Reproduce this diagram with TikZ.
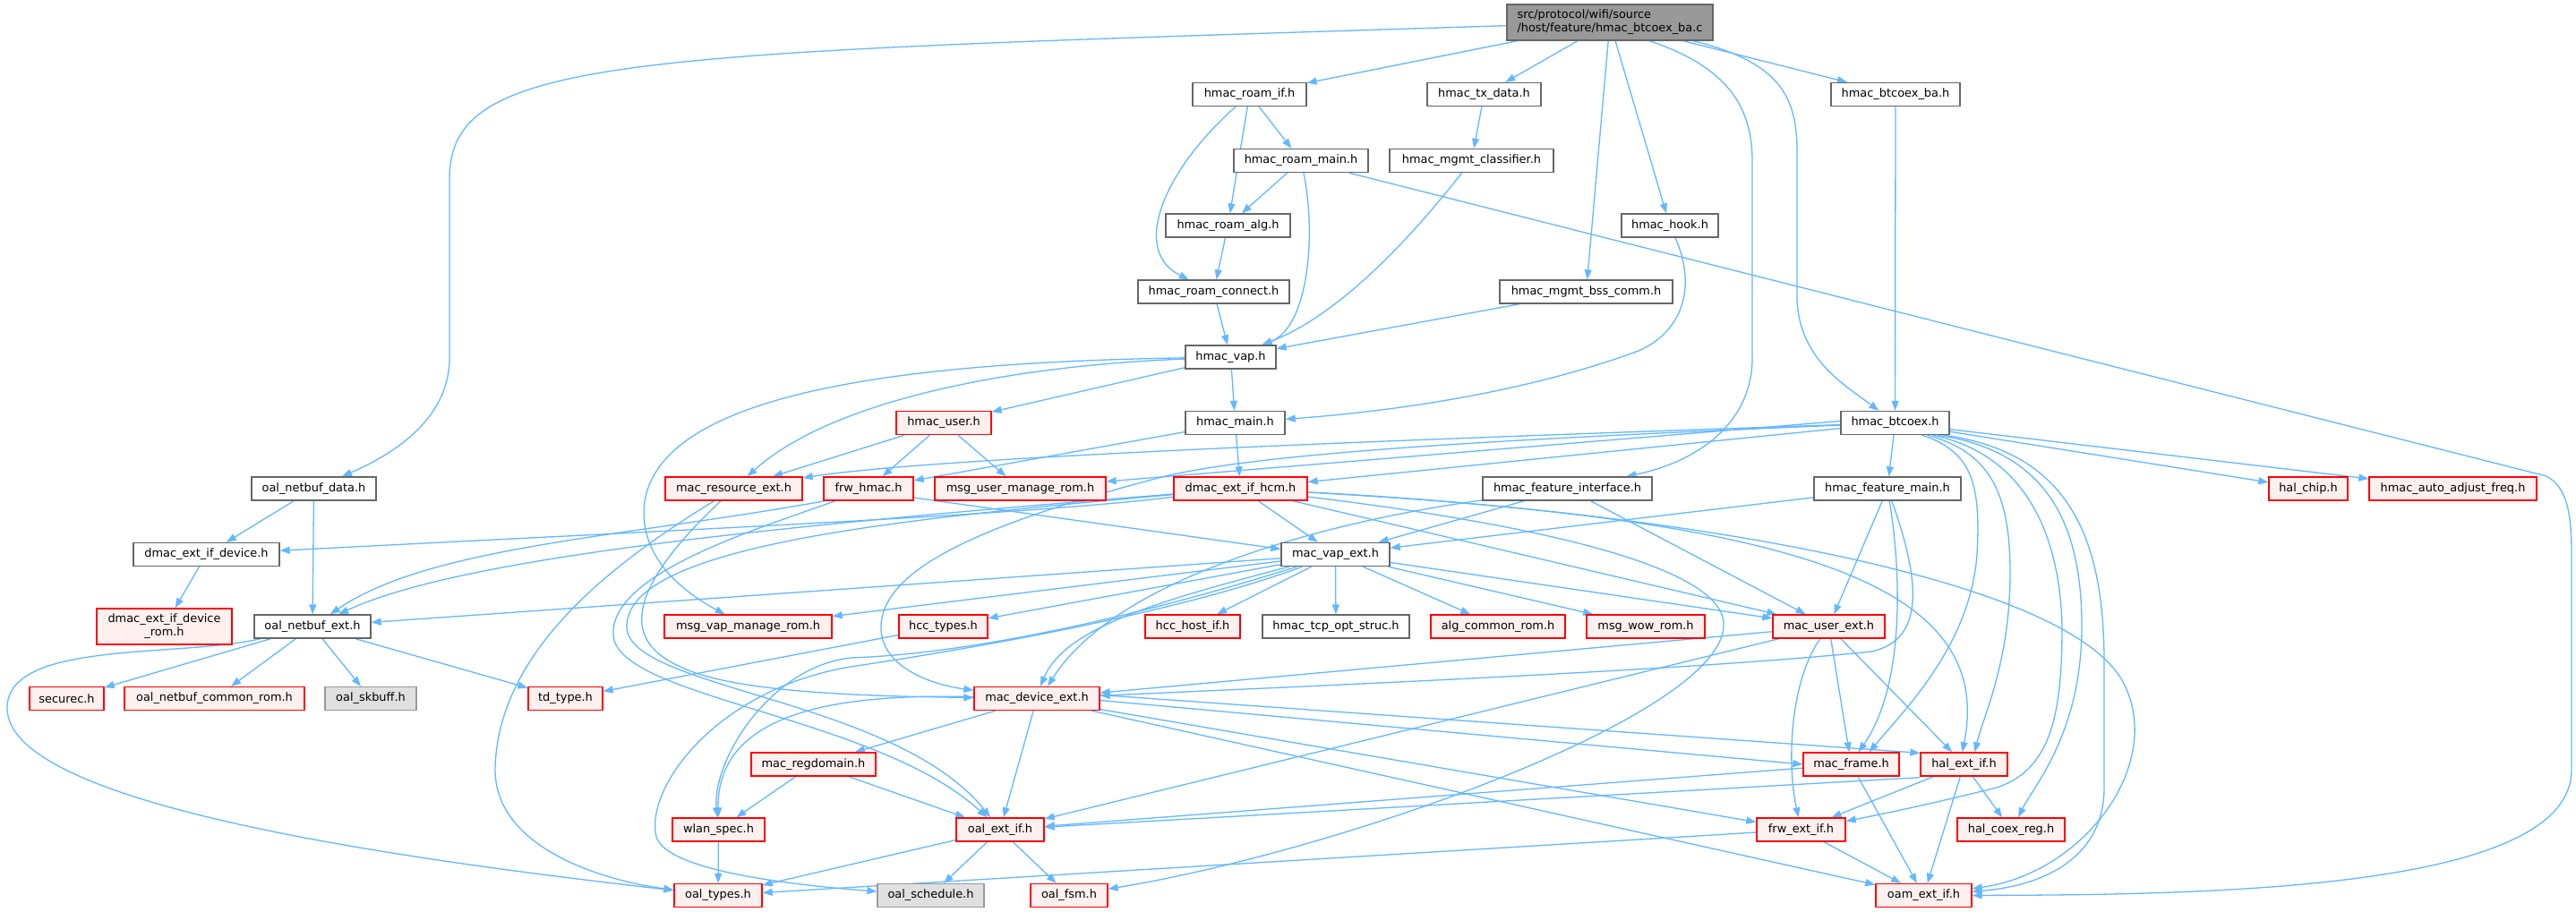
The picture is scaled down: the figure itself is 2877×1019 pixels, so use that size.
\documentclass[tikz,border=0pt]{standalone}
\usepackage{fontspec}
\newfontfamily\dvsans{DejaVu Sans}
\usetikzlibrary{arrows.meta}
\definecolor{edgeblue}{HTML}{63B8FF}
\definecolor{redfill}{HTML}{FFF0F0}
\definecolor{boxgray}{HTML}{666666}
\definecolor{mainfill}{HTML}{999999}
\definecolor{grayfill}{HTML}{E0E0E0}
\definecolor{grayedge}{HTML}{999999}
\pgfdeclarelayer{bg}
\pgfsetlayers{bg,main}
\tikzset{
  nbox/.style={draw, line width=1.3pt, minimum height=26pt, inner sep=0pt, font={\dvsans\fontsize{12.9pt}{15pt}\selectfont}},
  wbox/.style={nbox, draw=boxgray, fill=white},
  rbox/.style={nbox, draw=red, fill=redfill},
  gbox/.style={nbox, draw=grayedge, fill=grayfill},
  mainbox/.style={nbox, draw=boxgray, fill=mainfill},
  dep/.style={draw=edgeblue, line width=1.3pt, -{Triangle[length=11pt,width=8pt]}}
}
\begin{document}
\begin{tikzpicture}[x=1pt,y=-1pt]
\useasboundingbox (0,0) rectangle (2877,1019);
% nodes
\node[mainbox, minimum width=230pt, minimum height=40pt, align=left] (main) at (1798,25) {src/protocol/wifi/source\\/host/feature/hmac\_btcoex\_ba.c};
\node[wbox, minimum width=127pt] (roamif) at (1395.5,105.5) {hmac\_roam\_if.h};
\node[wbox, minimum width=127pt] (txdata) at (1657.5,105.5) {hmac\_tx\_data.h};
\node[wbox, minimum width=144pt] (btcoexba) at (2117,105.5) {hmac\_btcoex\_ba.h};
\node[wbox, minimum width=150pt] (roammain) at (1453,179.5) {hmac\_roam\_main.h};
\node[wbox, minimum width=183pt] (mgmtcls) at (1643.5,179.5) {hmac\_mgmt\_classifier.h};
\node[wbox, minimum width=139pt] (roamalg) at (1371.5,252) {hmac\_roam\_alg.h};
\node[wbox, minimum width=108pt] (hook) at (1865,252) {hmac\_hook.h};
\node[wbox, minimum width=169pt] (roamconn) at (1355.5,326) {hmac\_roam\_connect.h};
\node[wbox, minimum width=193pt] (bsscomm) at (1771.5,326) {hmac\_mgmt\_bss\_comm.h};
\node[wbox, minimum width=101pt] (hvap) at (1374.5,399) {hmac\_vap.h};
\node[rbox, minimum width=106pt] (huser) at (1054,472.5) {hmac\_user.h};
\node[wbox, minimum width=111pt] (hmain) at (1379.5,472.5) {hmac\_main.h};
\node[wbox, minimum width=121pt] (btcoex) at (2116.5,472.5) {hmac\_btcoex.h};
\node[wbox, minimum width=139pt] (netbufdata) at (350.5,546) {oal\_netbuf\_data.h};
\node[rbox, minimum width=153pt] (macres) at (819.5,546) {mac\_resource\_ext.h};
\node[rbox, minimum width=100pt] (frwhmac) at (970,546) {frw\_hmac.h};
\node[rbox, minimum width=191pt] (msguser) at (1139.5,546) {msg\_user\_manage\_rom.h};
\node[rbox, minimum width=149pt] (hcm) at (1385.5,546) {dmac\_ext\_if\_hcm.h};
\node[wbox, minimum width=189pt] (featif) at (1750.5,546) {hmac\_feature\_interface.h};
\node[wbox, minimum width=164pt] (featmain) at (2108,546) {hmac\_feature\_main.h};
\node[rbox, minimum width=88pt] (halchip) at (2578,546) {hal\_chip.h};
\node[rbox, minimum width=187pt] (autoadj) at (2739.5,546) {hmac\_auto\_adjust\_freq.h};
\node[wbox, minimum width=163pt] (extdev) at (230.5,619.5) {dmac\_ext\_if\_device.h};
\node[wbox, minimum width=121pt] (vapext) at (1491.5,619.5) {mac\_vap\_ext.h};
\node[rbox, minimum width=151pt, minimum height=40pt, align=center] (extdevrom) at (183.5,700) {dmac\_ext\_if\_device\\\_rom.h};
\node[wbox, minimum width=130pt] (netbufext) at (349,700) {oal\_netbuf\_ext.h};
\node[rbox, minimum width=187pt] (msgvap) at (835.5,700) {msg\_vap\_manage\_rom.h};
\node[rbox, minimum width=99pt] (hcctypes) at (1053.5,700) {hcc\_types.h};
\node[rbox, minimum width=106pt] (hcchost) at (1332,700) {hcc\_host\_if.h};
\node[wbox, minimum width=164pt] (tcpopt) at (1492,700) {hmac\_tcp\_opt\_struc.h};
\node[rbox, minimum width=150pt] (algcommon) at (1673,700) {alg\_common\_rom.h};
\node[rbox, minimum width=132pt] (msgwow) at (1838,700) {msg\_wow\_rom.h};
\node[rbox, minimum width=125pt] (userext) at (2042.5,700) {mac\_user\_ext.h};
\node[rbox, minimum width=83pt] (securec) at (74.5,780.5) {securec.h};
\node[rbox, minimum width=201pt] (netbufcommon) at (239.5,780.5) {oal\_netbuf\_common\_rom.h};
\node[gbox, minimum width=102pt] (skbuff) at (414,780.5) {oal\_skbuff.h};
\node[rbox, minimum width=83pt] (tdtype) at (631.5,780.5) {td\_type.h};
\node[rbox, minimum width=140pt] (devext) at (1158,780.5) {mac\_device\_ext.h};
\node[rbox, minimum width=139pt] (regdomain) at (908.5,854) {mac\_regdomain.h};
\node[rbox, minimum width=107pt] (macframe) at (2067.5,854) {mac\_frame.h};
\node[rbox, minimum width=97pt] (halext) at (2193.5,854) {hal\_ext\_if.h};
\node[rbox, minimum width=103pt] (wlanspec) at (802.5,927) {wlan\_spec.h};
\node[rbox, minimum width=98pt] (oalext) at (1117,927) {oal\_ext\_if.h};
\node[rbox, minimum width=99pt] (frwext) at (2011.5,927) {frw\_ext\_if.h};
\node[rbox, minimum width=120pt] (halcoex) at (2246,927) {hal\_coex\_reg.h};
\node[rbox, minimum width=98pt] (oaltypes) at (802,1000.5) {oal\_types.h};
\node[gbox, minimum width=119pt] (oalsched) at (1039.5,1000.5) {oal\_schedule.h};
\node[rbox, minimum width=86pt] (oalfsm) at (1194,1000.5) {oal\_fsm.h};
\node[rbox, minimum width=107pt] (oamext) at (2148.5,1000.5) {oam\_ext\_if.h};

\begin{pgfonlayer}{bg}
\fill[white] (0,0) rectangle (2877,1019);
% main
\draw[dep] (main) .. controls (700,60) and (502,60) .. (502,200) -- (502,400) .. controls (502,465) and (445,505) .. (netbufdata);
\draw[dep] (main) -- (roamif);
\draw[dep] (main) -- (txdata);
\draw[dep] (main) -- (bsscomm);
\draw[dep] (main) -- (hook);
\draw[dep] ([xshift=44pt]main.south) .. controls (1930,75) and (1957,120) .. (1957,180) -- (1957,400) .. controls (1957,470) and (1900,515) .. (featif);
\draw[dep] (main) -- (btcoexba);
\draw[dep] ([xshift=93pt]main.south) .. controls (1990,70) and (2007,110) .. (2007,170) -- (2007,330) .. controls (2007,400) and (2060,430) .. (btcoex);
% roam
\draw[dep] (roamif) -- (roammain);
\draw[dep] (roamif) -- (roamalg);
\draw[dep] (roamif) .. controls (1300,190) and (1262,280) .. (roamconn);
\draw[dep] (roammain) -- (roamalg);
\draw[dep] (roammain) .. controls (1470,260) and (1462,365) .. (hvap);
\draw[dep] (roammain) -- (2844,532) .. controls (2866,544) and (2872,570) .. (2872,620) -- (2872,860) .. controls (2872,990) and (2500,1000) .. (oamext);
\draw[dep] (txdata) -- (mgmtcls);
\draw[dep] (mgmtcls) .. controls (1580,260) and (1500,350) .. (hvap);
\draw[dep] (roamalg) -- (roamconn);
\draw[dep] (roamconn) -- (hvap);
\draw[dep] (bsscomm) -- (hvap);
\draw[dep] (hook) .. controls (1895,320) and (1880,370) .. (1830,392) .. controls (1700,440) and (1550,460) .. (hmain);
\draw[dep] (btcoexba) -- (btcoex);
% hvap
\draw[dep] (hvap) -- (huser);
\draw[dep] (hvap) -- (hmain);
\draw[dep] (hvap) .. controls (1100,410) and (920,455) .. (macres);
\draw[dep] (hvap) .. controls (1000,405) and (740,440) .. (720,560) .. controls (712,620) and (760,660) .. (msgvap);
% huser, hmain
\draw[dep] (huser) -- (macres);
\draw[dep] (huser) -- (frwhmac);
\draw[dep] (huser) -- (msguser);
\draw[dep] (hmain) -- (frwhmac);
\draw[dep] (hmain) -- (hcm);
% btcoex
\draw[dep] (btcoex) .. controls (1600,490) and (1050,510) .. (macres);
\draw[dep] ([yshift=2pt]btcoex.west) -- ([yshift=8pt]msguser.east);
\draw[dep] (btcoex) -- (hcm);
\draw[dep] (btcoex) .. controls (1700,490) and (1400,505) .. (1290,535) .. controls (1120,580) and (985,630) .. (984,700) .. controls (983,745) and (1040,765) .. (devext);
\draw[dep] (btcoex) -- (featmain);
\draw[dep] (btcoex) -- (halchip);
\draw[dep] (btcoex) -- (autoadj);
\draw[dep] ([xshift=30pt]btcoex.south) .. controls (2205,505) and (2212,545) .. (2208,620) .. controls (2200,720) and (2130,790) .. ([xshift=20pt]macframe.north);
\draw[dep] ([xshift=36pt]btcoex.south) .. controls (2222,505) and (2245,550) .. (2245,640) .. controls (2245,740) and (2215,800) .. ([xshift=12pt]halext.north);
\draw[dep] ([xshift=42pt]btcoex.south) .. controls (2250,505) and (2300,580) .. (2303,700) .. controls (2303,800) and (2290,860) .. (2230,880) .. controls (2150,900) and (2090,912) .. (frwext);
\draw[dep] ([xshift=48pt]btcoex.south) .. controls (2290,505) and (2325,590) .. (2325,700) .. controls (2325,820) and (2270,880) .. ([xshift=8pt]halcoex.north);
\draw[dep] ([xshift=54pt]btcoex.south) .. controls (2310,505) and (2350,600) .. (2350,740) -- (2350,880) .. controls (2350,960) and (2280,990) .. (oamext);
% macres
\draw[dep] (macres) .. controls (700,620) and (555,720) .. (553,860) .. controls (553,950) and (680,985) .. (oaltypes);
\draw[dep] (macres) .. controls (720,640) and (680,710) .. (760,745) .. controls (820,775) and (980,778) .. (devext);
% frwhmac
\draw[dep] ([yshift=-10pt]frwhmac.east) -- ([yshift=6pt]vapext.west);
\draw[dep] ([xshift=2pt]frwhmac.south west) .. controls (700,600) and (480,610) .. (netbufext);
\draw[dep] (frwhmac) .. controls (850,590) and (680,640) .. (685,710) .. controls (690,780) and (980,800) .. (oalext);
% hcm
\draw[dep] (hcm) .. controls (1150,575) and (800,590) .. (extdev);
\draw[dep] (hcm) .. controls (900,585) and (520,620) .. (netbufext);
\draw[dep] (hcm) -- (vapext);
\draw[dep] (hcm) -- (userext);
\draw[dep] (hcm) .. controls (2000,580) and (2230,650) .. ([xshift=-2pt]halext.north);
\draw[dep] (hcm) .. controls (1850,570) and (2300,640) .. (2370,760) .. controls (2420,850) and (2330,975) .. (oamext);
\draw[dep] (hcm) .. controls (1750,590) and (1930,640) .. (1925,700) .. controls (1920,800) and (1500,950) .. (oalfsm);
\draw[dep] (hcm) .. controls (1000,580) and (700,610) .. (700,700) .. controls (700,770) and (1000,780) .. (oalext);
% featif, featmain
\draw[dep] (featif) -- (vapext);
\draw[dep] (featif) -- (userext);
\draw[dep] (featif) .. controls (1500,580) and (1250,640) .. ([xshift=12pt]devext.north);
\draw[dep] (featmain) -- (vapext);
\draw[dep] (featmain) -- (userext);
\draw[dep] (featmain) .. controls (2125,650) and (2125,770) .. ([xshift=8pt]macframe.north);
\draw[dep] (featmain) .. controls (2145,650) and (2150,715) .. (2090,728) .. controls (1900,748) and (1500,765) .. (devext);
% vapext
\draw[dep] (vapext) -- (netbufext);
\draw[dep] (vapext) -- (msgvap);
\draw[dep] (vapext) -- (hcctypes);
\draw[dep] (vapext) -- (hcchost);
\draw[dep] (vapext) -- (tcpopt);
\draw[dep] (vapext) -- (algcommon);
\draw[dep] (vapext) -- (msgwow);
\draw[dep] (vapext) -- (userext);
\draw[dep] (vapext) .. controls (1300,670) and (1190,700) .. ([xshift=4pt]devext.north);
\draw[dep] (vapext) .. controls (1300,680) and (1100,730) .. (950,735) .. controls (860,745) and (795,850) .. (wlanspec);
\draw[dep] (vapext) .. controls (1300,690) and (1050,730) .. (950,745) .. controls (800,770) and (720,880) .. (733,935) .. controls (745,975) and (900,990) .. (oalsched);
% userext
\draw[dep] (userext) -- (macframe);
\draw[dep] (userext) -- (halext);
\draw[dep] (userext) .. controls (2000,760) and (1995,850) .. (frwext);
\draw[dep] (userext) -- (devext);
\draw[dep] (userext) -- (oalext);
% devext
\draw[dep] (devext) -- (regdomain);
\draw[dep] (devext) -- (oalext);
\draw[dep] (devext) .. controls (950,775) and (800,790) .. (wlanspec);
\draw[dep] ([yshift=-2pt]devext.east) -- (macframe.west);
\draw[dep] ([yshift=4pt]devext.east) -- ([yshift=-1pt]halext.north west);
\draw[dep] (devext) -- (frwext);
\draw[dep] (devext) -- (oamext);
% lower
\draw[dep] (regdomain) -- (wlanspec);
\draw[dep] (regdomain) -- (oalext);
\draw[dep] (macframe) -- (oalext);
\draw[dep] (macframe) -- (oamext);
\draw[dep] (halext) -- (frwext);
\draw[dep] (halext) -- (oamext);
\draw[dep] (halext) -- (halcoex);
\draw[dep] ([yshift=-1pt]halext.south west) -- (oalext);
\draw[dep] (frwext) -- (oamext);
\draw[dep] (frwext) -- (oaltypes);
\draw[dep] (oalext) -- (oaltypes);
\draw[dep] (oalext) -- (oalsched);
\draw[dep] (oalext) -- (oalfsm);
\draw[dep] (wlanspec) -- (oaltypes);
% netbuf
\draw[dep] (netbufdata) -- (extdev);
\draw[dep] (netbufdata) -- (netbufext);
\draw[dep] (extdev) -- (extdevrom);
\draw[dep] (netbufext) -- (securec);
\draw[dep] (netbufext) -- (netbufcommon);
\draw[dep] (netbufext) -- (skbuff);
\draw[dep] (netbufext) -- (tdtype);
\draw[dep] (netbufext) .. controls (200,735) and (10,715) .. (8,790) .. controls (5,900) and (450,960) .. (oaltypes);
\draw[dep] (hcctypes) -- (tdtype);
\end{pgfonlayer}
\end{tikzpicture}
\end{document}
